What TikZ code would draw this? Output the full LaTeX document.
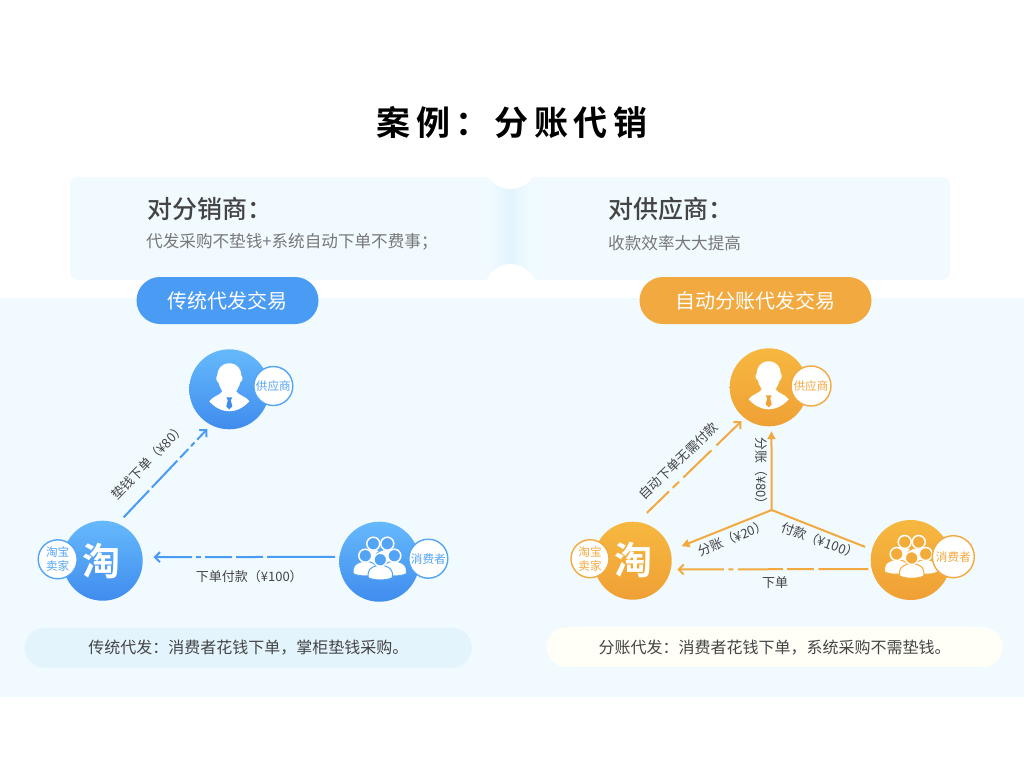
\documentclass[tikz,border=0pt]{standalone}
\usepackage{fontspec}
\setmainfont{Noto Sans CJK SC}
\newfontfamily\titlefont[LetterSpace=16]{Noto Sans CJK SC Bold}
\newfontfamily\medfont{Noto Sans CJK SC Medium}
\usetikzlibrary{arrows.meta}
\definecolor{bandbg}{HTML}{F0FAFF}
\definecolor{notchbg}{HTML}{E3F4FD}
\definecolor{blueline}{HTML}{4A9BF4}
\definecolor{bluetop}{HTML}{66B9FC}
\definecolor{bluebot}{HTML}{3F8CEE}
\definecolor{bluemid}{HTML}{54A4F5}
\definecolor{orangeline}{HTML}{F2A93F}
\definecolor{orangetop}{HTML}{F6B840}
\definecolor{orangebot}{HTML}{F0A035}
\definecolor{orangemid}{HTML}{F3AB3A}
\definecolor{darktext}{HTML}{444444}
\definecolor{greytext}{HTML}{777777}
\tikzset{
  bluedisc/.style={circle,minimum size=80pt,inner sep=0pt,outer sep=0pt,top color=bluetop,bottom color=bluebot},
  orangedisc/.style={circle,minimum size=78pt,inner sep=0pt,outer sep=0pt,top color=orangetop,bottom color=orangebot},
  badge/.style={circle,minimum size=#1,inner sep=0pt,fill=white,line width=1.4pt,font=\fontsize{11.6}{14}\selectfont,align=center},
  bluebadge/.style={badge=39pt,draw=bluemid,text=bluemid},
  orangebadge/.style={badge=40pt,draw=orangeline,text=orangeline},
  pillhead/.style={rounded corners=23.5pt,minimum width=#1,minimum height=47pt,inner sep=0pt,text=white,font=\fontsize{20}{24}\selectfont},
  notepill/.style={rounded corners=20pt,minimum width=#1,minimum height=40pt,inner sep=0pt,text=darktext,font=\fontsize{16}{20}\selectfont},
  flowlabel/.style={text=darktext,inner sep=0pt,font=\fontsize{13}{16}\selectfont},
  cardhead/.style={anchor=west,inner sep=0pt,text=darktext,font=\medfont\fontsize{25}{30}\selectfont},
  cardtext/.style={anchor=west,inner sep=0pt,text=greytext,font=\fontsize{16.6}{20}\selectfont},
  logotext/.style={inner sep=0pt,text=white,font=\titlefont\fontsize{38}{40}\selectfont},
  barbtip/.style={-{Straight Barb[length=5pt,width=10pt]}},
  solidtip/.style={-{Triangle[length=8pt,width=8pt]}},
  pics/manicon/.style={code={
    \fill[white] (0,-26) .. controls (8,-26) and (12,-20) .. (12,-14) .. controls (14,-12) and (13,-8) .. (11,-7) .. controls (10,-3) and (8,0) .. (7,2) .. controls (9,6) and (17,7) .. (20,12) .. controls (14,19) and (6,22) .. (0,22) .. controls (-6,22) and (-14,19) .. (-20,12) .. controls (-17,7) and (-9,6) .. (-7,2) .. controls (-8,0) and (-10,-3) .. (-11,-7) .. controls (-13,-8) and (-14,-12) .. (-12,-14) .. controls (-12,-20) and (-8,-26) .. cycle;
    \fill[#1] (-3,8) -- (3,8) -- (1.5,11) -- (3,17) -- (0,20) -- (-3,17) -- (-1.5,11) -- cycle;
  }},
  pics/crowdman/.style={code={
    \filldraw[fill=white,draw=#1,line width=1pt] (-12,18) .. controls (-13,10) and (-10,8) .. (-4,6) -- (4,6) .. controls (10,8) and (13,10) .. (12,18) .. controls (6,21) and (-6,21) .. cycle;
    \filldraw[fill=#1,draw=white,line width=1.5pt] (0,0) circle (6.5);
  }},
  pics/crowdicon/.style={code={
    \pic at(-6,-18) {crowdman=#1};
    \pic at(8,-18) {crowdman=#1};
    \pic at(-14,-6) {crowdman=#1};
    \pic at(15,-6) {crowdman=#1};
    \pic at(1,-2) {crowdman=#1};
  }},
}
\begin{document}
\begin{tikzpicture}[x=1pt,y=-1pt]
\useasboundingbox (0,0) rectangle (1024,768);
\fill[white] (0,0) rectangle (1024,768);
\fill[bandbg] (0,298) rectangle (1024,697);
\node [inner sep=0pt,font=\titlefont\fontsize{34}{40}\selectfont] (title) at(512,122){案例：分账代销};

% top cards
\fill[bandbg,rounded corners=8pt] (70,177) rectangle (950,280);
\shade[left color=bandbg,right color=notchbg] (490,177) rectangle (509.5,280);
\shade[left color=notchbg,right color=bandbg] (510.5,177) rectangle (530,280);
\begin{scope}
\clip (70,177) rectangle (950,280);
\fill[white] (510.5,162) circle (27);
\fill[white] (510.5,290) circle (26);
\end{scope}
\node [cardhead] (headA) at(147,209){对分销商：};
\node [cardtext] (textA) at(146,242){代发采购不垫钱+系统自动下单不费事；};
\node [cardhead] (headB) at(608,209){对供应商：};
\node [cardtext] (textB) at(608,243){收款效率大大提高};
\node [pillhead=182pt,fill=blueline] (modeA) at(227.5,300.5){传统代发交易};
\node [pillhead=232pt,fill=orangeline] (modeB) at(755.5,300.5){自动分账代发交易};

% traditional
\node [bluedisc] (supplyA) at(229.3,389.3){};
\node [bluedisc] (shopA) at(102.7,560.7){};
\node [bluedisc] (buyerA) at(379.3,561.7){};
\pic at(229.3,389.3) {manicon=bluebot};
\pic at(379.3,561.7) {crowdicon=bluemid};
\node [logotext] (logoA) at(101.7,561){淘};
\node [bluebadge] (supplyAtag) at(273.3,386){供应商};
\node [bluebadge] (shopAtag) at(57.7,559.3){淘宝\\卖家};
\node [bluebadge] (buyerAtag) at(428.3,558.7){消费者};
\draw[blueline,line width=2pt,barbtip,shorten <=4.6pt,shorten >=11pt,dash pattern=on 68pt off 4pt on 27pt off 4pt on 27pt off 4pt on 5pt off 4pt on 200pt](buyerA.173) -- (shopA.5);
\draw[blueline,line width=2pt,barbtip,shorten <=8.7pt,shorten >=5.6pt,dash pattern=on 37pt off 4pt on 37pt off 4pt on 12pt off 4pt on 5pt off 4pt on 200pt](shopA.68) -- (supplyA.243);
\node [flowlabel] (payA) at(249.3,576.7){下单付款（¥100）};
\node [flowlabel,rotate=46] (orderA) at(148.3,461.7){垫钱下单（¥80）};
\node [notepill=447pt,fill=notchbg] (noteA) at(248.3,647.7){传统代发：消费者花钱下单，掌柜垫钱采购。};

% automatic
\coordinate (hub) at(771.7,510);
\node [orangedisc] (supplyB) at(768.7,387.3){};
\node [orangedisc] (shopB) at(632.7,560.7){};
\node [orangedisc,minimum size=80pt] (buyerB) at(910.7,560){};
\pic at(768.7,387.3) {manicon=orangebot};
\pic at(910.7,560) {crowdicon=orangemid};
\node [logotext] (logoB) at(633.7,560){淘};
\node [orangebadge] (supplyBtag) at(811,386){供应商};
\node [orangebadge,badge=38pt] (shopBtag) at(590,558.7){淘宝\\卖家};
\node [orangebadge,badge=42pt] (buyerBtag) at(953.3,556.7){消费者};
\draw[orangeline,line width=2pt,solidtip,shorten >=5pt](hub) -- (supplyB.274);
\draw[orangeline,line width=2pt,solidtip,shorten >=12pt](hub) -- (shopB.15);
\draw[orangeline,line width=2pt,shorten <=7.5pt](buyerB.165) -- (hub);
\draw[orangeline,line width=2pt,barbtip,shorten <=3.4pt,shorten >=6.6pt,dash pattern=on 50pt off 4.5pt on 27pt off 4pt on 45pt off 4.5pt on 5pt off 4.5pt on 200pt](buyerB.193) -- (shopB.347);
\draw[orangeline,line width=2pt,barbtip,shorten <=13pt,shorten >=4.5pt,dash pattern=on 31pt off 5pt on 9pt off 6pt on 39pt off 7pt on 200pt](shopB.83) -- (supplyB.232);
\node [flowlabel] (orderB) at(775,582.3){下单};
\node [flowlabel,rotate=44] (autoB) at(678.3,460.7){自动下单无需付款};
\node [flowlabel,rotate=-90] (splitUp) at(761.7,474){分账（¥80）};
\node [flowlabel,rotate=22] (splitDown) at(732.7,538.3){分账（¥20）};
\node [flowlabel,rotate=-20] (payB) at(820,540.7){付款（¥100）};
\node [notepill=456pt,fill=white!60!yellow!8!white] (noteB) at(774.7,647.2){分账代发：消费者花钱下单，系统采购不需垫钱。};
\end{tikzpicture}
\end{document}
